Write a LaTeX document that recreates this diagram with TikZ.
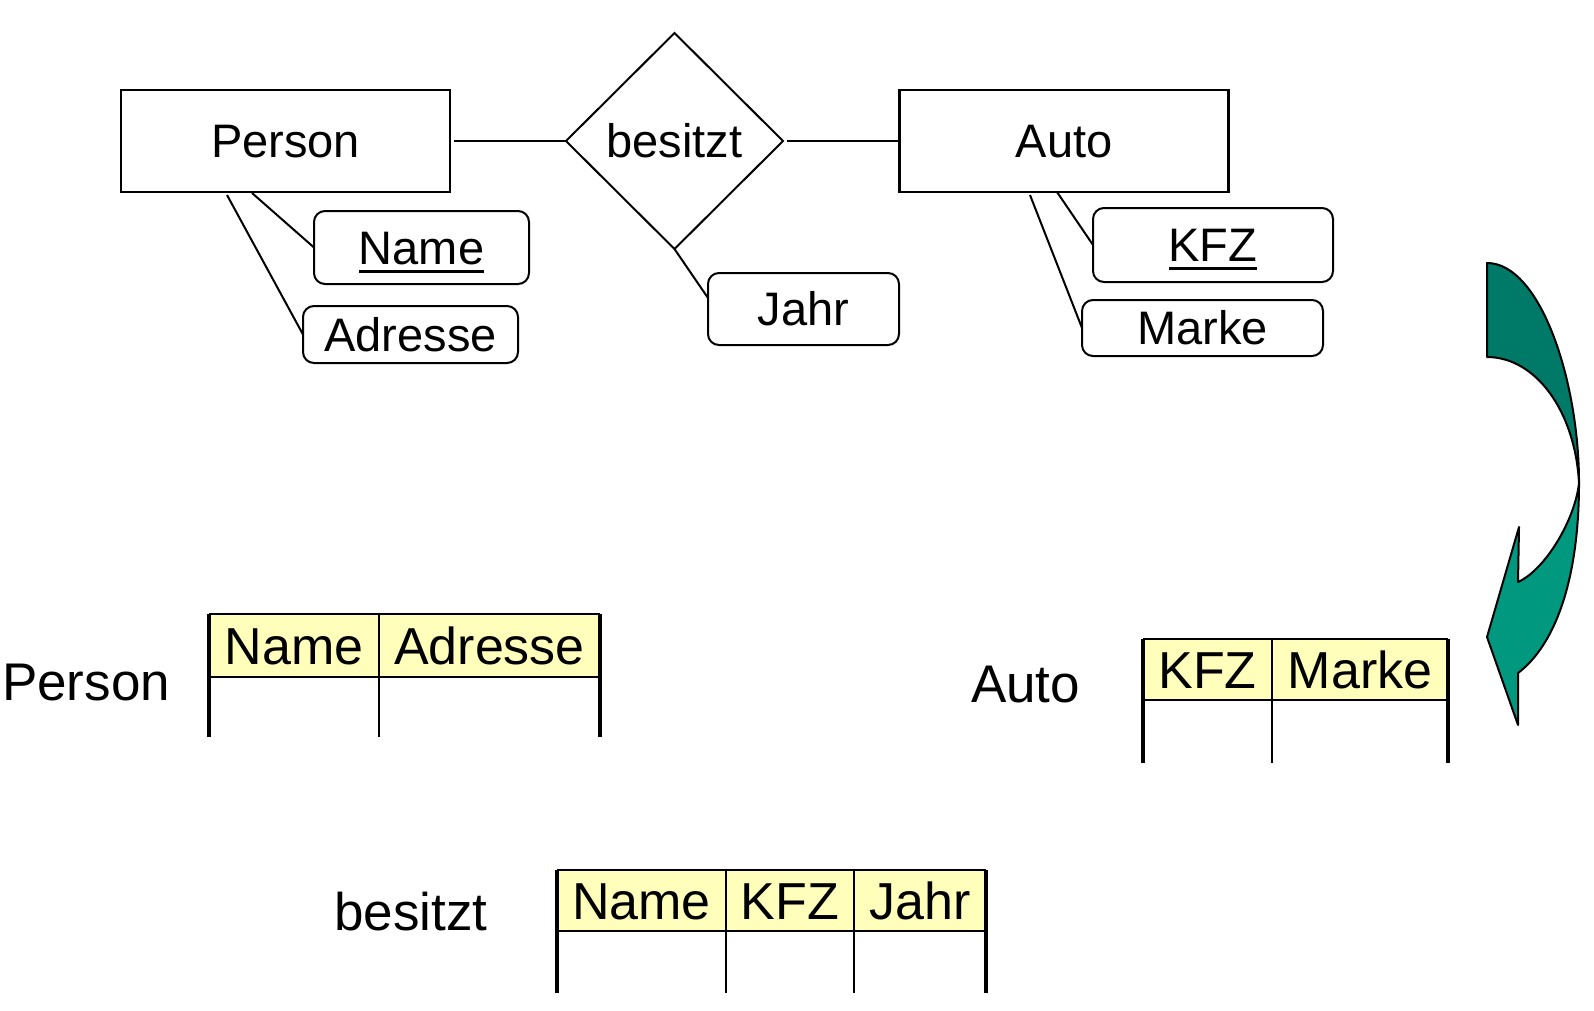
\documentclass[tikz,border=0pt]{standalone}
\usepackage{fontspec}
\setmainfont{Liberation Sans}
\usetikzlibrary{shapes.geometric,calc}
\definecolor{hdrfill}{RGB}{255,255,187}
\definecolor{tealdark}{RGB}{0,122,104}
\definecolor{teallight}{RGB}{0,153,128}
\newcommand{\ulin}[1]{\setbox0\hbox{#1}\rlap{\rule[-8.5pt]{\wd0}{3pt}}\box0}
\begin{document}
\begin{tikzpicture}[x=1pt,y=-1pt,
  every node/.style={inner sep=0pt, outer sep=0pt},
  erfont/.style={font={\fontsize{47}{51}\selectfont}, text height=33.7pt, text depth=0pt},
  bigfont/.style={font={\fontsize{52}{57}\selectfont}, text height=37.2pt, text depth=0pt},
  labelfont/.style={font={\fontsize{53}{58}\selectfont}, text height=38pt, text depth=0pt},
  entity/.style={erfont, draw, line width=2.4pt, minimum width=329pt, minimum height=102pt},
  relation/.style={erfont, draw, diamond, line width=2pt, minimum width=217pt, minimum height=216pt},
  attr/.style={erfont, draw, line width=2pt, rounded corners=11pt},
  conn/.style={line width=2pt},
  hdr/.style={bigfont, fill=hdrfill},
  outerv/.style={line width=3.5pt},
  innerl/.style={line width=2pt},
  arrowpart/.style={line width=2pt, line join=round}
]
\useasboundingbox (0,0) rectangle (1594,1010);

% ER diagram
\node[entity] (P) at (285.5,141) {Person};
\node[entity] (A) at (1064,141) {Auto};
\node[relation] (D) at (674.5,141) {besitzt};
\node[attr, minimum width=215pt, minimum height=73pt] (N) at (421.5,247.5) {\ulin{Name}};
\node[attr, minimum width=215pt, minimum height=57pt] (Ad) at (410.5,334.5) {Adresse};
\node[attr, minimum width=191pt, minimum height=72pt] (J) at (803.5,309) {Jahr};
\node[attr, minimum width=240pt, minimum height=74pt] (K) at (1213,245) {\ulin{KFZ}};
\node[attr, minimum width=241pt, minimum height=56pt] (M) at (1202.5,328) {Marke};

\draw[conn] ($(P.east)+(4,0)$) -- (D.west);
\draw[conn] ($(D.east)+(4,0)$) -- (A.west);
\draw[conn] ($(P.south)+(-33.5,1)$) -- (N.west);
\draw[conn] ($(P.south)+(-58.5,3)$) -- (Ad.west);
\draw[conn] (D.south) -- ($(J.west)+(0,-11)$);
\draw[conn] ($(A.south)+(-7,0)$) -- (K.west);
\draw[conn] ($(A.south)+(-34,3)$) -- (M.west);

% curved arrow
\draw[arrowpart, fill=tealdark] (1487,263) .. controls (1540,263) and (1579,380) .. (1579,483)
  .. controls (1575,410) and (1535,357) .. (1487,357) -- cycle;
\draw[arrowpart, fill=teallight] (1579,483) .. controls (1579,580) and (1555,645) .. (1518,673)
  -- (1518,725) -- (1487,637) -- (1519,527) -- (1518,582)
  .. controls (1545,570) and (1575,520) .. (1579,483) -- cycle;

% Person table
\node[labelfont, anchor=base] (LP) at (86,700) {Person};
\node[hdr, minimum width=170pt, minimum height=63pt] (t1a) at (294,645.5) {Name};
\node[hdr, minimum width=221pt, minimum height=63pt] (t1b) at (489.5,645.5) {Adresse};
\coordinate (t1bot) at (0,737);
\draw[innerl] (t1a.north west) -- (t1b.north east);
\draw[innerl] (t1a.south west) -- (t1b.south east);
\draw[innerl] (t1a.north east) -- (t1a.north east |- t1bot);
\draw[outerv] (t1a.north west) -- (t1a.north west |- t1bot);
\draw[outerv] (t1b.north east) -- (t1b.north east |- t1bot);

% Auto table
\node[labelfont, anchor=base] (LA) at (1025.5,702) {Auto};
\node[hdr, minimum width=129pt, minimum height=61pt] (t2a) at (1207.5,669.5) {KFZ};
\node[hdr, minimum width=176pt, minimum height=61pt] (t2b) at (1360,669.5) {Marke};
\coordinate (t2bot) at (0,763);
\draw[innerl] (t2a.north west) -- (t2b.north east);
\draw[innerl] (t2a.south west) -- (t2b.south east);
\draw[innerl] (t2a.north east) -- (t2a.north east |- t2bot);
\draw[outerv] (t2a.north west) -- (t2a.north west |- t2bot);
\draw[outerv] (t2b.north east) -- (t2b.north east |- t2bot);

% besitzt table
\node[labelfont, anchor=base] (LB) at (411,930) {besitzt};
\node[hdr, minimum width=169pt, minimum height=61pt] (t3a) at (641.5,900.5) {Name};
\node[hdr, minimum width=128pt, minimum height=61pt] (t3b) at (790,900.5) {KFZ};
\node[hdr, minimum width=132pt, minimum height=61pt] (t3c) at (920,900.5) {Jahr};
\coordinate (t3bot) at (0,993);
\draw[innerl] (t3a.north west) -- (t3c.north east);
\draw[innerl] (t3a.south west) -- (t3c.south east);
\draw[innerl] (t3a.north east) -- (t3a.north east |- t3bot);
\draw[innerl] (t3b.north east) -- (t3b.north east |- t3bot);
\draw[outerv] (t3a.north west) -- (t3a.north west |- t3bot);
\draw[outerv] (t3c.north east) -- (t3c.north east |- t3bot);
\end{tikzpicture}
\end{document}
